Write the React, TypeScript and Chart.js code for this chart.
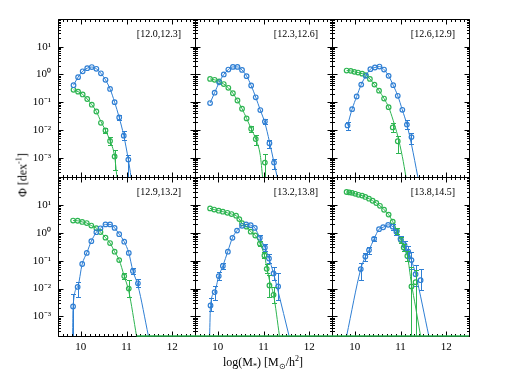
import React, { useEffect, useRef } from "react";
import { Chart, registerables } from "chart.js";

Chart.register(...registerables);

// ---------- axis definitions ----------
const X_MIN = 9.5;
const X_MAX = 12.5;
const Y_MIN = 2e-4;
const Y_MAX = 100;
const xTickValues = [10, 11, 12];
const xTickLabels = ["10", "11", "12"];
const yTickValues = [1e-3, 1e-2, 1e-1, 1, 10];
const yTickLabels = ["10⁻³", "10⁻²", "10⁻¹", "10⁰", "10¹"];
const panelLabels = ["[12.0,12.3]", "[12.3,12.6]", "[12.6,12.9]", "[12.9,13.2]", "[13.2,13.8]", "[13.8,14.5]"];

// ---------- panel 0 : [12.0,12.3] ----------
const blueX0 = [9.84, 9.94, 10.04, 10.14, 10.24, 10.34, 10.44, 10.54, 10.64, 10.74, 10.84, 10.94, 11.04];
const blueY0 = [0.41, 0.8, 1.3, 1.68, 1.85, 1.6, 1.1, 0.64, 0.3, 0.1, 0.028, 0.0062, 0.00085];
const blueLo0 = [null, null, null, null, null, null, null, null, null, null, 0.022, 0.0045, 0.00001];
const blueHi0 = [null, null, null, null, null, null, null, null, null, null, 0.034, 0.0089, 0.0012];
const greenX0 = [9.84, 9.94, 10.04, 10.14, 10.24, 10.34, 10.44, 10.54, 10.64, 10.74];
const greenY0 = [0.28, 0.24, 0.19, 0.13, 0.081, 0.046, 0.018, 0.0096, 0.004, 0.0011];
const greenLo0 = [null, null, null, null, null, null, null, 0.0075, 0.0028, 0.00037];
const greenHi0 = [null, null, null, null, null, null, null, 0.012, 0.0055, 0.0019];
const blueFitX0 = [9.84, 9.94, 10.04, 10.14, 10.24, 10.34, 10.44, 10.54, 10.64, 10.74, 10.84, 10.94, 11.04, 11.1];
const blueFitY0 = [0.41, 0.8, 1.3, 1.68, 1.85, 1.6, 1.1, 0.64, 0.3, 0.1, 0.028, 0.0062, 0.00085, 0.0002];
const greenFitX0 = [9.84, 9.94, 10.04, 10.14, 10.24, 10.34, 10.44, 10.54, 10.64, 10.74, 10.79];
const greenFitY0 = [0.28, 0.24, 0.19, 0.13, 0.081, 0.046, 0.02, 0.0096, 0.004, 0.0011, 0.0002];

// ---------- panel 1 : [12.3,12.6] ----------
const blueX1 = [9.83, 9.93, 10.03, 10.13, 10.23, 10.33, 10.43, 10.53, 10.63, 10.73, 10.83, 10.93, 11.03, 11.13, 11.23];
const blueY1 = [0.093, 0.22, 0.52, 1.0, 1.5, 1.87, 1.87, 1.46, 0.87, 0.4, 0.15, 0.052, 0.02, 0.0033, 0.00066];
const blueLo1 = [null, null, null, null, null, null, null, null, null, null, null, null, 0.016, 0.0022, 0.0004];
const blueHi1 = [null, null, null, null, null, null, null, null, null, null, null, null, 0.025, 0.0045, 0.0009];
const greenX1 = [9.83, 9.93, 10.03, 10.13, 10.23, 10.33, 10.43, 10.53, 10.63, 10.73, 10.83, 11.03];
const greenY1 = [0.69, 0.64, 0.56, 0.45, 0.33, 0.21, 0.115, 0.058, 0.026, 0.011, 0.0047, 0.00066];
const greenLo1 = [null, null, null, null, null, null, null, null, null, 0.0085, 0.0028, 0.00001];
const greenHi1 = [null, null, null, null, null, null, null, null, null, 0.014, 0.0063, 0.00135];
const blueFitX1 = [9.83, 9.93, 10.03, 10.13, 10.23, 10.33, 10.43, 10.53, 10.63, 10.73, 10.83, 10.93, 11.03, 11.13, 11.23, 11.3];
const blueFitY1 = [0.093, 0.22, 0.52, 1.0, 1.5, 1.87, 1.87, 1.46, 0.87, 0.4, 0.15, 0.052, 0.018, 0.0038, 0.00066, 0.0002];
const greenFitX1 = [9.83, 9.93, 10.03, 10.13, 10.23, 10.33, 10.43, 10.53, 10.63, 10.73, 10.83, 10.93, 10.98];
const greenFitY1 = [0.69, 0.64, 0.56, 0.45, 0.33, 0.21, 0.115, 0.058, 0.026, 0.011, 0.0047, 0.0012, 0.0002];

// ---------- panel 2 : [12.6,12.9] ----------
const blueX2 = [9.84, 9.94, 10.04, 10.14, 10.24, 10.34, 10.44, 10.54, 10.64, 10.74, 10.84, 10.94, 11.04, 11.14, 11.24];
const blueY2 = [0.0145, 0.056, 0.16, 0.43, 0.89, 1.55, 1.78, 1.93, 1.5, 0.89, 0.41, 0.17, 0.053, 0.0155, 0.0055];
const blueLo2 = [0.01, null, null, null, null, null, null, null, null, null, null, null, null, 0.011, 0.0032];
const blueHi2 = [0.02, null, null, null, null, null, null, null, null, null, null, null, null, 0.022, 0.008];
const greenX2 = [9.82, 9.91, 9.99, 10.07, 10.16, 10.24, 10.33, 10.43, 10.53, 10.64, 10.74, 10.83, 10.94];
const greenY2 = [1.38, 1.35, 1.24, 1.17, 1.07, 0.94, 0.69, 0.43, 0.26, 0.135, 0.066, 0.0123, 0.0039];
const greenLo2 = [null, null, null, null, null, null, null, null, null, null, null, 0.0085, 0.0015];
const greenHi2 = [null, null, null, null, null, null, null, null, null, null, null, 0.018, 0.0059];
const blueFitX2 = [9.84, 9.94, 10.04, 10.14, 10.24, 10.34, 10.44, 10.54, 10.64, 10.74, 10.84, 10.94, 11.04, 11.14, 11.24, 11.38];
const blueFitY2 = [0.0145, 0.056, 0.16, 0.43, 0.89, 1.55, 1.78, 1.93, 1.5, 0.89, 0.41, 0.17, 0.053, 0.0155, 0.003, 0.0002];
const greenFitX2 = [9.82, 9.91, 9.99, 10.07, 10.16, 10.24, 10.33, 10.43, 10.53, 10.64, 10.74, 10.84, 10.94, 11.04, 11.12];
const greenFitY2 = [1.38, 1.35, 1.24, 1.17, 1.07, 0.94, 0.69, 0.43, 0.26, 0.135, 0.066, 0.022, 0.006, 0.0011, 0.0002];

// ---------- panel 3 : [12.9,13.2] ----------
const blueX3 = [9.83, 9.93, 10.03, 10.13, 10.23, 10.34, 10.43, 10.54, 10.64, 10.74, 10.84, 10.95, 11.05, 11.14, 11.25];
const blueY3 = [0.0023, 0.0115, 0.076, 0.19, 0.5, 1.05, 1.45, 2.0, 2.0, 1.5, 0.89, 0.48, 0.19, 0.043, 0.0155];
const blueLo3 = [0.00001, 0.0052, null, null, null, null, null, null, null, null, null, null, null, 0.034, 0.0115];
const blueHi3 = [0.0066, 0.0174, null, null, null, null, null, null, null, null, null, null, null, 0.055, 0.023];
const greenX3 = [9.83, 9.93, 10.03, 10.13, 10.23, 10.34, 10.43, 10.54, 10.64, 10.74, 10.84, 10.95, 11.05];
const greenY3 = [2.75, 2.7, 2.45, 2.24, 1.82, 1.47, 1.07, 0.67, 0.43, 0.21, 0.105, 0.028, 0.01];
const greenLo3 = [null, null, null, null, null, null, null, null, null, null, null, 0.022, 0.005];
const greenHi3 = [null, null, null, null, null, null, null, null, null, null, null, 0.036, 0.02];
const blueFitX3 = [9.82, 9.83, 9.93, 10.03, 10.13, 10.23, 10.34, 10.43, 10.54, 10.64, 10.74, 10.84, 10.95, 11.05, 11.14, 11.25, 11.48];
const blueFitY3 = [0.0002, 0.0023, 0.0115, 0.076, 0.19, 0.5, 1.05, 1.45, 2.0, 2.0, 1.5, 0.89, 0.48, 0.19, 0.043, 0.013, 0.0002];
const greenFitX3 = [9.83, 9.93, 10.03, 10.13, 10.23, 10.34, 10.43, 10.54, 10.64, 10.74, 10.84, 10.95, 11.05, 11.22];
const greenFitY3 = [2.75, 2.7, 2.45, 2.24, 1.82, 1.47, 1.07, 0.67, 0.43, 0.21, 0.105, 0.028, 0.008, 0.0002];

// ---------- panel 4 : [13.2,13.8] ----------
const blueX4 = [9.84, 9.93, 10.02, 10.11, 10.22, 10.32, 10.42, 10.53, 10.62, 10.72, 10.81, 10.92, 11.03, 11.12, 11.22, 11.32];
const blueY4 = [0.0025, 0.0075, 0.028, 0.065, 0.21, 0.66, 1.2, 1.78, 2.0, 1.88, 1.5, 0.66, 0.3, 0.12, 0.035, 0.012];
const blueLo4 = [0.0016, 0.004, 0.02, 0.05, null, null, null, null, null, null, null, 0.5, 0.22, 0.08, 0.02, 0.004];
const blueHi4 = [0.0045, 0.012, 0.038, 0.085, null, null, null, null, null, null, null, 0.85, 0.4, 0.18, 0.06, 0.035];
const greenX4 = [9.83, 9.92, 10.02, 10.11, 10.21, 10.3, 10.4, 10.47, 10.53, 10.63, 10.72, 10.82, 10.92, 11.02, 11.07, 11.13, 11.22];
const greenY4 = [7.5, 6.8, 6.2, 5.7, 5.2, 4.7, 4.1, 3.1, 2.2, 1.66, 1.1, 0.8, 0.41, 0.155, 0.051, 0.013, 0.006];
const greenLo4 = [null, null, null, null, null, null, null, null, null, null, null, null, 0.33, 0.12, 0.035, 0.005, 0.003];
const greenHi4 = [null, null, null, null, null, null, null, null, null, null, null, null, 0.5, 0.2, 0.075, 0.03, 0.011];
const blueFitX4 = [9.82, 9.84, 9.93, 10.02, 10.11, 10.22, 10.32, 10.42, 10.53, 10.62, 10.72, 10.81, 10.92, 11.03, 11.12, 11.22, 11.32, 11.56];
const blueFitY4 = [0.0002, 0.0025, 0.0075, 0.028, 0.065, 0.22, 0.66, 1.2, 1.78, 2.0, 1.88, 1.5, 0.66, 0.3, 0.12, 0.035, 0.008, 0.0002];
const greenFitX4 = [9.83, 9.92, 10.02, 10.11, 10.21, 10.3, 10.4, 10.47, 10.53, 10.63, 10.72, 10.82, 10.92, 11.02, 11.07, 11.13, 11.22, 11.35];
const greenFitY4 = [7.5, 6.8, 6.2, 5.7, 5.2, 4.7, 4.1, 3.1, 2.2, 1.66, 1.1, 0.8, 0.41, 0.155, 0.06, 0.02, 0.006, 0.0002];

// ---------- panel 5 : [13.8,14.5] ----------
const blueX5 = [10.13, 10.23, 10.31, 10.42, 10.53, 10.62, 10.73, 10.83, 10.91, 11.0, 11.09, 11.17, 11.24, 11.33, 11.44];
const blueY5 = [0.05, 0.14, 0.24, 0.6, 1.35, 1.58, 1.93, 1.66, 1.1, 0.6, 0.36, 0.21, 0.105, 0.033, 0.02];
const blueLo5 = [0.02, 0.1, 0.18, 0.5, null, null, null, 1.3, 0.85, 0.42, 0.25, 0.12, 0.05, 0.012, 0.0087];
const blueHi5 = [0.08, 0.19, 0.3, 0.72, null, null, null, 2.1, 1.45, 0.8, 0.5, 0.35, 0.2, 0.07, 0.05];
const greenX5 = [9.82, 9.88, 9.94, 10.01, 10.08, 10.16, 10.23, 10.31, 10.39, 10.47, 10.55, 10.64, 10.74, 10.83, 10.92, 11.01, 11.07, 11.15, 11.24, 11.33];
const greenY5 = [29, 28, 27, 25, 23, 21.5, 19.3, 16.7, 14.1, 11.7, 9.3, 6.7, 4.5, 2.5, 1.18, 0.55, 0.3, 0.148, 0.012, 0.017];
const greenLo5 = [null, null, null, null, null, null, null, null, null, null, null, null, null, null, 0.9, 0.42, 0.22, 0.1, 0.00001, 0.00001];
const greenHi5 = [null, null, null, null, null, null, null, null, null, null, null, null, null, null, 1.5, 0.7, 0.4, 0.22, 0.06, 0.045];
const blueFitX5 = [9.82, 10.13, 10.23, 10.31, 10.42, 10.53, 10.62, 10.73, 10.83, 10.91, 11.0, 11.09, 11.17, 11.24, 11.33, 11.62];
const blueFitY5 = [0.0002, 0.05, 0.14, 0.24, 0.6, 1.35, 1.58, 1.93, 1.66, 1.1, 0.6, 0.36, 0.21, 0.105, 0.033, 0.0002];
const greenFitX5 = [9.82, 9.88, 9.94, 10.01, 10.08, 10.16, 10.23, 10.31, 10.39, 10.47, 10.55, 10.64, 10.74, 10.83, 10.92, 11.01, 11.07, 11.15, 11.24, 11.33, 11.44];
const greenFitY5 = [29, 28, 27, 25, 23, 21.5, 19.3, 16.7, 14.1, 11.7, 9.3, 6.7, 4.5, 2.5, 1.18, 0.55, 0.3, 0.148, 0.015, 0.0022, 0.0002];

// green line lying on the lower axis (x where it starts), per panel
const greenFloorStart = [null, null, null, 11.22, 9.5, 9.5];

// ---------- layout & style ----------
const BLUE = "#2f7fd4";
const GREEN = "#2db551";
const FONT = "'Liberation Serif', 'Times New Roman', serif";
const colLeft = [58, 195, 332];
const colRight = [195, 332, 469];
const rowTop = [19, 177];
const rowBottom = [177, 336];

const PANELS = [
  { col: 0, row: 0, blue: [blueX0, blueY0, blueLo0, blueHi0], green: [greenX0, greenY0, greenLo0, greenHi0], blueFit: [blueFitX0, blueFitY0], greenFit: [greenFitX0, greenFitY0] },
  { col: 1, row: 0, blue: [blueX1, blueY1, blueLo1, blueHi1], green: [greenX1, greenY1, greenLo1, greenHi1], blueFit: [blueFitX1, blueFitY1], greenFit: [greenFitX1, greenFitY1] },
  { col: 2, row: 0, blue: [blueX2, blueY2, blueLo2, blueHi2], green: [greenX2, greenY2, greenLo2, greenHi2], blueFit: [blueFitX2, blueFitY2], greenFit: [greenFitX2, greenFitY2] },
  { col: 0, row: 1, blue: [blueX3, blueY3, blueLo3, blueHi3], green: [greenX3, greenY3, greenLo3, greenHi3], blueFit: [blueFitX3, blueFitY3], greenFit: [greenFitX3, greenFitY3] },
  { col: 1, row: 1, blue: [blueX4, blueY4, blueLo4, blueHi4], green: [greenX4, greenY4, greenLo4, greenHi4], blueFit: [blueFitX4, blueFitY4], greenFit: [greenFitX4, greenFitY4] },
  { col: 2, row: 1, blue: [blueX5, blueY5, blueLo5, blueHi5], green: [greenX5, greenY5, greenLo5, greenHi5], blueFit: [blueFitX5, blueFitY5], greenFit: [greenFitX5, greenFitY5] },
];

const toPts = (xs: number[], ys: number[]) => xs.map((x, i) => ({ x, y: ys[i] }));

// frame + inward ticks on all four sides, then the green floor line and the panel label
const framePlugin = {
  id: "frame",
  afterDraw(chart: any) {
    const { ctx, chartArea: a, scales } = chart;
    const x = scales.x, y = scales.y;
    const L = Math.round(a.left) + 0.5, R = Math.round(a.right) + 0.5;
    const T = Math.round(a.top) + 0.5, B = Math.round(a.bottom) + 0.5;
    ctx.save();
    ctx.strokeStyle = "#000000";
    ctx.lineWidth = 1;
    ctx.beginPath();
    ctx.moveTo(L, T); ctx.lineTo(R, T); ctx.lineTo(R, B); ctx.lineTo(L, B); ctx.closePath();
    for (let k = 0; k <= 30; k++) {
      const v = X_MIN + k * 0.1;
      const major = xTickValues.some((t) => Math.abs(t - v) < 1e-6);
      const len = major ? 5 : 2.5;
      const px = Math.round(x.getPixelForValue(v)) + 0.5;
      ctx.moveTo(px, B); ctx.lineTo(px, B - len);
      ctx.moveTo(px, T); ctx.lineTo(px, T + len);
    }
    for (let e = -4; e <= 2; e++) {
      for (let m = 1; m <= 9; m++) {
        const v = m * Math.pow(10, e);
        if (v < Y_MIN || v > Y_MAX) continue;
        const len = m === 1 ? 5 : 2.5;
        const py = Math.round(y.getPixelForValue(v)) + 0.5;
        ctx.moveTo(L, py); ctx.lineTo(L + len, py);
        ctx.moveTo(R, py); ctx.lineTo(R - len, py);
      }
    }
    ctx.stroke();

    const floor = chart.options.plugins.frame.floor;
    if (floor != null) {
      ctx.strokeStyle = GREEN;
      ctx.lineWidth = 1.5;
      ctx.beginPath();
      ctx.moveTo(x.getPixelForValue(floor), y.getPixelForValue(Y_MIN));
      ctx.lineTo(x.getPixelForValue(X_MAX), y.getPixelForValue(Y_MIN));
      ctx.stroke();
    }

    ctx.fillStyle = "#000";
    ctx.font = `10px ${FONT}`;
    ctx.textAlign = "right";
    ctx.textBaseline = "middle";
    ctx.fillText(chart.options.plugins.frame.label, a.right - 14, a.top + 15);
    ctx.restore();
  },
};

const errorBarPlugin = {
  id: "errbars",
  afterDatasetsDraw(chart: any) {
    const { ctx, chartArea: a, scales } = chart;
    const x = scales.x, y = scales.y;
    ctx.save();
    ctx.beginPath();
    ctx.rect(a.left, a.top, a.right - a.left, a.bottom - a.top + 1);
    ctx.clip();
    chart.data.datasets.forEach((ds: any) => {
      if (!ds.errLo) return;
      ctx.strokeStyle = ds.borderColor;
      ctx.lineWidth = 1;
      ds.data.forEach((pt: any, i: number) => {
        const lo = ds.errLo[i], hi = ds.errHi[i];
        if (lo == null || hi == null) return;
        const px = Math.round(x.getPixelForValue(pt.x)) + 0.5;
        const yl = Math.round(y.getPixelForValue(lo)) + 0.5;
        const yh = Math.round(y.getPixelForValue(hi)) + 0.5;
        ctx.beginPath();
        ctx.moveTo(px, yl); ctx.lineTo(px, yh);
        ctx.moveTo(px - 2.5, yl); ctx.lineTo(px + 2.5, yl);
        ctx.moveTo(px - 2.5, yh); ctx.lineTo(px + 2.5, yh);
        ctx.stroke();
      });
    });
    ctx.restore();
  },
};

function Panel({ p, idx }: { p: any; idx: number }) {
  const ref = useRef<HTMLCanvasElement>(null);
  const ml = p.col === 0 ? 58 : 3;
  const mb = p.row === 1 ? 30 : 3;
  const pw = colRight[p.col] - colLeft[p.col];
  const ph = rowBottom[p.row] - rowTop[p.row];
  const W = ml + pw + 3;
  const H = 3 + ph + mb;

  useEffect(() => {
    const [bx, by, blo, bhi] = p.blue;
    const [gx, gy, glo, ghi] = p.green;
    const datasets: any[] = [
      {
        data: toPts(p.blueFit[0], p.blueFit[1]),
        showLine: true, borderColor: BLUE, borderWidth: 1, pointRadius: 0,
        cubicInterpolationMode: "monotone", fill: false,
      },
      {
        data: toPts(p.greenFit[0], p.greenFit[1]),
        showLine: true, borderColor: GREEN, borderWidth: 1, pointRadius: 0,
        cubicInterpolationMode: "monotone", fill: false,
      },
      {
        data: toPts(bx, by), errLo: blo, errHi: bhi,
        borderColor: BLUE, backgroundColor: "rgba(0,0,0,0)",
        pointStyle: "circle", pointRadius: 2.3, pointBorderWidth: 1.2, showLine: false,
      },
      {
        data: toPts(gx, gy), errLo: glo, errHi: ghi,
        borderColor: GREEN, backgroundColor: "rgba(0,0,0,0)",
        pointStyle: "circle", pointRadius: 2.3, pointBorderWidth: 1.2, showLine: false,
      },
    ];

    const chart = new Chart(ref.current as HTMLCanvasElement, {
      type: "scatter",
      data: { datasets },
      options: {
        responsive: false,
        animation: false,
        devicePixelRatio: 1,
        events: [],
        layout: { autoPadding: false, padding: { left: 0, right: 3, top: 3, bottom: 0 } },
        plugins: {
          legend: { display: false },
          tooltip: { enabled: false },
          title: { display: false },
          frame: { label: panelLabels[idx], floor: greenFloorStart[idx] },
        } as any,
        scales: {
          x: {
            type: "linear",
            min: X_MIN,
            max: X_MAX,
            grid: { display: false, drawTicks: false },
            border: { display: false },
            ticks: {
              display: p.row === 1,
              padding: 5,
              color: "#000",
              autoSkip: false,
              maxRotation: 0,
              font: { family: FONT, size: 11 },
              callback: (_v: any, i: number) => xTickLabels[i],
            },
            afterBuildTicks: (s: any) => {
              s.ticks = xTickValues.map((v) => ({ value: v }));
            },
            afterFit: (s: any) => {
              s.height = mb;
              s.paddingLeft = 0; s.paddingRight = 0; s.paddingTop = 0; s.paddingBottom = 0;
            },
          },
          y: {
            type: "logarithmic",
            min: Y_MIN,
            max: Y_MAX,
            grid: { display: false, drawTicks: false },
            border: { display: false },
            ticks: {
              display: p.col === 0,
              padding: 7,
              color: "#000",
              autoSkip: false,
              font: { family: FONT, size: 11 },
              callback: (_v: any, i: number) => yTickLabels[i],
            },
            afterBuildTicks: (s: any) => {
              s.ticks = yTickValues.map((v) => ({ value: v }));
            },
            afterFit: (s: any) => {
              s.width = ml;
              s.paddingLeft = 0; s.paddingRight = 0; s.paddingTop = 0; s.paddingBottom = 0;
            },
          },
        } as any,
      },
      plugins: [framePlugin, errorBarPlugin],
    } as any);
    return () => chart.destroy();
  }, []);

  return (
    <canvas
      ref={ref}
      width={W}
      height={H}
      style={{ position: "absolute", left: colLeft[p.col] - ml, top: rowTop[p.row] - 3, width: W, height: H }}
    />
  );
}

export default function App() {
  return (
    <div style={{ position: "fixed", left: 0, top: 0, width: 509, height: 375, background: "#fff", overflow: "hidden" }}>
      {PANELS.map((p, i) => (
        <Panel key={i} p={p} idx={i} />
      ))}
      <div
        style={{
          position: "absolute", left: 263, top: 363, transform: "translate(-50%,-50%)",
          fontFamily: FONT, fontSize: 12, color: "#000", whiteSpace: "nowrap", lineHeight: "14px",
        }}
      >
        log(M<sub style={{ fontSize: 8 }}>*</sub>) [M<sub style={{ fontSize: 8 }}>⊙</sub>/h<sup style={{ fontSize: 8 }}>2</sup>]
      </div>
      <div
        style={{
          position: "absolute", left: 21, top: 175, transform: "translate(-50%,-50%) rotate(-90deg)",
          fontFamily: FONT, fontSize: 12, color: "#000", whiteSpace: "nowrap", lineHeight: "14px",
        }}
      >
        Φ [dex<sup style={{ fontSize: 8 }}>-1</sup>]
      </div>
    </div>
  );
}
